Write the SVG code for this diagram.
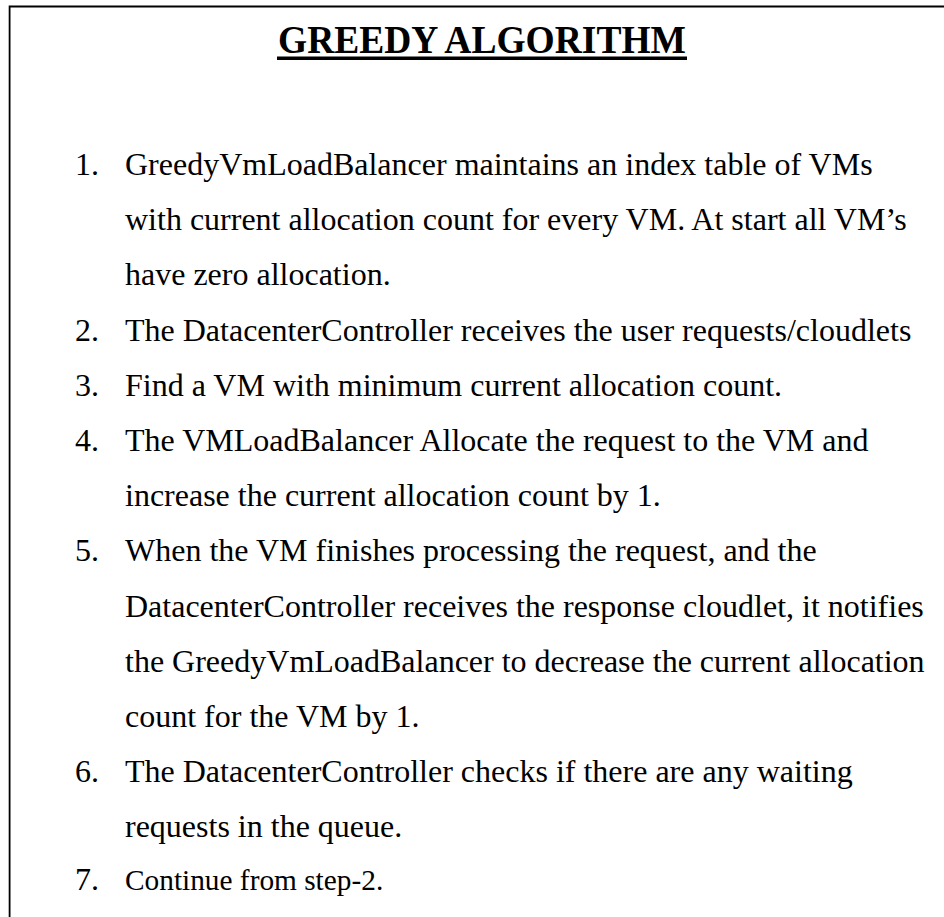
<svg xmlns="http://www.w3.org/2000/svg" width="944" height="917" viewBox="0 0 944 917">
<style>
.t{font-family:"Liberation Serif","Times New Roman",serif;font-size:32px;fill:#000}
.s{font-size:29.33px}
.title{font-family:"Liberation Serif","Times New Roman",serif;font-size:39.5px;font-weight:bold;fill:#000}
</style>
<rect width="944" height="917" fill="#fff"/>
<g id="frame">
<path d="M9.6,917 V6.5 H944" fill="none" stroke="#000" stroke-width="1.8"/>
</g>
<g id="title">
<text class="title" x="278" y="52.5" textLength="408" lengthAdjust="spacingAndGlyphs">GREEDY ALGORITHM</text>
<rect x="277" y="56.5" width="410" height="3.5" fill="#000"/>
</g>
<g id="step1">
<text class="t" x="75" y="175">1.</text>
<text class="t" x="125" y="175">GreedyVmLoadBalancer maintains an index table of VMs</text>
<text class="t" x="125" y="230.2">with current allocation count for every VM. At start all VM’s</text>
<text class="t" x="125" y="285.4">have zero allocation.</text>
</g>
<g id="step2">
<text class="t" x="75" y="340.6">2.</text>
<text class="t" x="125" y="340.6">The DatacenterController receives the user requests/cloudlets</text>
</g>
<g id="step3">
<text class="t" x="75" y="395.8">3.</text>
<text class="t" x="125" y="395.8">Find a VM with minimum current allocation count.</text>
</g>
<g id="step4">
<text class="t" x="75" y="451">4.</text>
<text class="t" x="125" y="451">The VMLoadBalancer Allocate the request to the VM and</text>
<text class="t" x="125" y="506.2">increase the current allocation count by 1.</text>
</g>
<g id="step5">
<text class="t" x="75" y="561.4">5.</text>
<text class="t" x="125" y="561.4">When the VM finishes processing the request, and the</text>
<text class="t" x="125" y="616.6">DatacenterController receives the response cloudlet, it notifies</text>
<text class="t" x="125" y="671.8">the GreedyVmLoadBalancer to decrease the current allocation</text>
<text class="t" x="125" y="727">count for the VM by 1.</text>
</g>
<g id="step6">
<text class="t" x="75" y="782.2">6.</text>
<text class="t" x="125" y="782.2">The DatacenterController checks if there are any waiting</text>
<text class="t" x="125" y="837.4">requests in the queue.</text>
</g>
<g id="step7">
<text class="t" x="75" y="890">7.</text>
<text class="t s" x="125" y="890">Continue from step-2.</text>
</g>
</svg>
